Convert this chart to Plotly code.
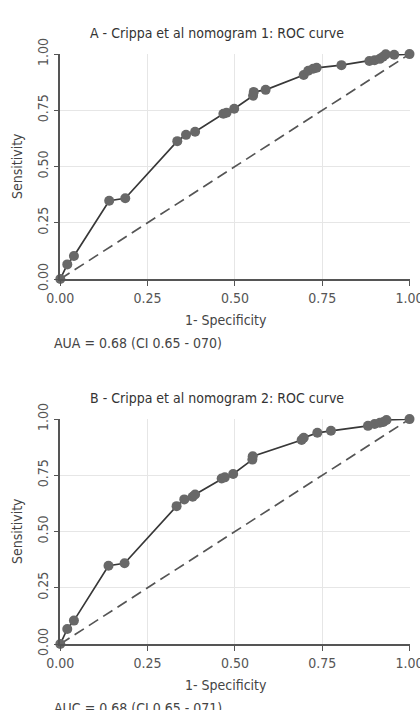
import plotly.graph_objects as go

# Panel A data (1 - specificity, sensitivity)
fpr_a = [0.0, 0.020, 0.039, 0.140, 0.186, 0.335, 0.360, 0.386, 0.467, 0.476, 0.498,
         0.552, 0.554, 0.588, 0.697, 0.710, 0.724, 0.734, 0.805, 0.885, 0.900,
         0.915, 0.924, 0.932, 0.956, 1.0]
tpr_a = [0.0, 0.065, 0.102, 0.348, 0.359, 0.613, 0.641, 0.655, 0.735, 0.739, 0.757,
         0.815, 0.832, 0.841, 0.907, 0.926, 0.935, 0.939, 0.951, 0.969, 0.973,
         0.979, 0.988, 0.999, 0.997, 1.0]

# Panel B data
fpr_b = [0.0, 0.020, 0.039, 0.138, 0.184, 0.333, 0.355, 0.379, 0.386, 0.462, 0.471,
         0.495, 0.550, 0.551, 0.691, 0.697, 0.736, 0.775, 0.881, 0.900, 0.915,
         0.925, 0.934, 1.0]
tpr_b = [0.0, 0.067, 0.104, 0.348, 0.359, 0.613, 0.643, 0.655, 0.665, 0.736, 0.741,
         0.756, 0.820, 0.835, 0.907, 0.917, 0.939, 0.948, 0.970, 0.978, 0.984,
         0.987, 0.996, 1.0]

titles = ["A - Crippa et al nomogram 1: ROC curve", "B - Crippa et al nomogram 2: ROC curve"]
notes = ["AUA = 0.68 (CI 0.65 - 070)", "AUC = 0.68 (CI 0.65 - 071)"]
tick_vals = [0, 0.25, 0.5, 0.75, 1.0]
tick_text = ["0.00", "0.25", "0.50", "0.75", "1.00"]

FONT = "Liberation Sans Narrow, DejaVu Sans Condensed, sans-serif"
W, H = 420, 710

def px_x(p):
    return p / W

def px_y(p):
    return 1 - p / H

panels = [
    dict(fpr=fpr_a, tpr=tpr_a, top=54, bot=279),
    dict(fpr=fpr_b, tpr=tpr_b, top=419, bot=644),
]

fig = go.Figure()
annotations = []
x_left, x_right = 60.3, 409.7

for i, p in enumerate(panels):
    xa = "x" if i == 0 else "x2"
    ya = "y" if i == 0 else "y2"
    fig.add_trace(go.Scatter(x=[0, 1], y=[0, 1], mode="lines", xaxis=xa, yaxis=ya,
                             line=dict(color="#555555", width=1.7, dash="11px,6px"),
                             showlegend=False, hoverinfo="skip", cliponaxis=False))
    fig.add_trace(go.Scatter(x=p["fpr"], y=p["tpr"], mode="lines+markers", xaxis=xa, yaxis=ya,
                             line=dict(color="#383838", width=1.7),
                             marker=dict(color="#686868", size=10),
                             showlegend=False, cliponaxis=False))
    xkey = "xaxis" if i == 0 else "xaxis2"
    ykey = "yaxis" if i == 0 else "yaxis2"
    common = dict(range=[0, 1.0005], tickvals=tick_vals, ticktext=tick_text,
                  showgrid=True, gridcolor="#e6e6e6", gridwidth=1,
                  showline=True, linecolor="#555555", linewidth=1.5,
                  ticks="outside", ticklen=5, tickcolor="#555555",
                  tickfont=dict(family=FONT, size=14, color="#555555"),
                  zeroline=False, fixedrange=True, automargin=False,
                  ticklabeloverflow="allow")
    fig.layout[xkey] = dict(domain=[px_x(x_left), px_x(x_right)], anchor=ya, **common)
    fig.layout[ykey] = dict(domain=[px_y(p["bot"]), px_y(p["top"])], anchor=xa,
                            tickangle=-90, **common)
    off = p["top"] - 54
    annotations += [
        dict(text=titles[i], x=px_x(217), y=px_y(33 + off), xref="paper", yref="paper",
             xanchor="center", yanchor="middle", showarrow=False,
             font=dict(family=FONT, size=14, color="#333333")),
        dict(text="1- Specificity", x=px_x(226), y=px_y(320 + off), xref="paper", yref="paper",
             xanchor="center", yanchor="middle", showarrow=False,
             font=dict(family=FONT, size=14, color="#444444")),
        dict(text="Sensitivity", x=px_x(17), y=px_y(166 + off), xref="paper", yref="paper",
             xanchor="center", yanchor="middle", showarrow=False, textangle=-90,
             font=dict(family=FONT, size=14, color="#444444")),
        dict(text=notes[i], x=px_x(52), y=px_y(343 + off), xref="paper", yref="paper",
             xanchor="left", yanchor="middle", showarrow=False,
             font=dict(family=FONT, size=14, color="#444444")),
    ]

fig.update_layout(width=W, height=H, margin=dict(l=0, r=0, t=0, b=0),
                  paper_bgcolor="white", plot_bgcolor="white",
                  annotations=annotations, showlegend=False)

fig.write_html("out.html", config={"displayModeBar": False})
